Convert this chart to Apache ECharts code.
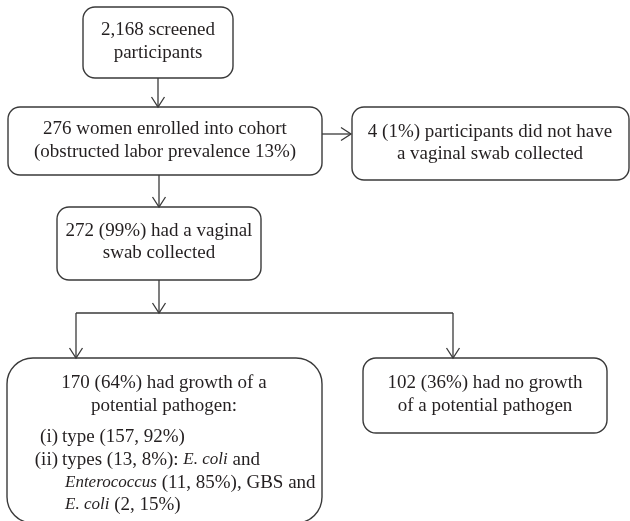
<!DOCTYPE html>
<html>
<head>
<meta charset="utf-8">
<script src="https://cdn.jsdelivr.net/npm/echarts@6/dist/echarts.min.js"></script>
<style>html,body{margin:0;padding:0;background:#fff}#c{width:630px;height:521px}</style>
</head>
<body>
<div id="c"></div>
<script>
// Flowchart boxes: [x0, y0, x1, y1, cornerRadius] in chart units
const boxes = [
  [83, 7, 233, 78, 12],
  [8, 107, 322, 175, 12],
  [352, 107, 629, 180, 12],
  [57, 207, 261, 280, 12],
  [7, 358, 322, 523, 26],
  [363, 358, 607, 433, 13]
];
// Text lines: [x, y, align, text]
const labels = [
  [158, 30, 'center', '2,168 screened'],
  [158, 53, 'center', 'participants'],
  [165, 129, 'center', '276 women enrolled into cohort'],
  [165, 152, 'center', '(obstructed labor prevalence 13%)'],
  [490, 132, 'center', '4 (1%) participants did not have'],
  [490, 154, 'center', 'a vaginal swab collected'],
  [159, 231, 'center', '272 (99%) had a vaginal'],
  [159, 253, 'center', 'swab collected'],
  [164, 383, 'center', '170 (64%) had growth of a'],
  [164, 406, 'center', 'potential pathogen:'],
  [58, 437, 'right', '(i)'],
  [62, 437, 'left', 'type (157, 92%)'],
  [58, 460, 'right', '(ii)'],
  [62, 460, 'left', 'types (13, 8%): {it|E. coli} and'],
  [65, 483, 'left', '{it|Enterococcus} (11, 85%), GBS and'],
  [65, 505, 'left', '{it|E. coli} (2, 15%)'],
  [485, 383, 'center', '102 (36%) had no growth'],
  [485, 406, 'center', 'of a potential pathogen']
];
// Connectors: [[points...], hasArrow]
const connectors = [
  [[[158, 78], [158, 107]], true],
  [[[322, 134], [351, 134]], true],
  [[[159, 175], [159, 207]], true],
  [[[159, 280], [159, 313]], true],
  [[[76, 313], [453, 313]], false],
  [[[76, 313], [76, 358]], true],
  [[[453, 313], [453, 358]], true]
];

const FONT = '19px "Liberation Serif", "DejaVu Serif", serif';
const IFONT = 'italic 17px "Liberation Serif", "DejaVu Serif", serif';
const INK = '#231f20';
const LINE = '#3a3a3a';

const chart = echarts.init(document.getElementById('c'), null, {renderer: 'canvas'});
chart.setOption({
  animation: false,
  backgroundColor: '#fff',
  grid: {left: 0, right: 0, top: 0, bottom: 0},
  xAxis: {type: 'value', min: 0, max: 630, show: false},
  yAxis: {type: 'value', min: 0, max: 521, inverse: true, show: false},
  series: [
    {
      type: 'custom',
      clip: false,
      data: boxes,
      renderItem: function (params, api) {
        const p0 = api.coord([api.value(0), api.value(1)]);
        const p1 = api.coord([api.value(2), api.value(3)]);
        return {
          type: 'rect',
          shape: {x: p0[0], y: p0[1], width: p1[0] - p0[0], height: p1[1] - p0[1], r: api.value(4)},
          style: {fill: '#fff', stroke: LINE, lineWidth: 1.4}
        };
      }
    },
    {
      type: 'custom',
      clip: false,
      data: connectors.map(function (c, i) { return [i]; }),
      renderItem: function (params, api) {
        const c = connectors[params.dataIndex];
        const pts = c[0].map(function (p) { return api.coord(p); });
        const children = [{
          type: 'polyline',
          shape: {points: pts},
          style: {stroke: LINE, lineWidth: 1.3, fill: null}
        }];
        if (c[1]) {
          const a = pts[pts.length - 2], b = pts[pts.length - 1];
          const dx = b[0] - a[0], dy = b[1] - a[1];
          const len = Math.sqrt(dx * dx + dy * dy);
          const ux = dx / len, uy = dy / len;
          const L = 10, W = 6.5;
          children.push({
            type: 'polyline',
            shape: {points: [
              [b[0] - ux * L - uy * W, b[1] - uy * L + ux * W],
              [b[0], b[1]],
              [b[0] - ux * L + uy * W, b[1] - uy * L - ux * W]
            ]},
            style: {stroke: LINE, lineWidth: 1.3, fill: null}
          });
        }
        return {type: 'group', children: children};
      }
    },
    {
      type: 'custom',
      clip: false,
      data: labels.map(function (l, i) { return [l[0], l[1], i]; }),
      renderItem: function (params, api) {
        const l = labels[params.dataIndex];
        const p = api.coord([l[0], l[1]]);
        return {
          type: 'text',
          style: {
            x: p[0], y: p[1],
            text: l[3],
            font: FONT,
            fill: INK,
            align: l[2],
            verticalAlign: 'middle',
            rich: {
              it: {font: IFONT, fill: INK}
            }
          }
        };
      }
    }
  ]
});
</script>
</body>
</html>
